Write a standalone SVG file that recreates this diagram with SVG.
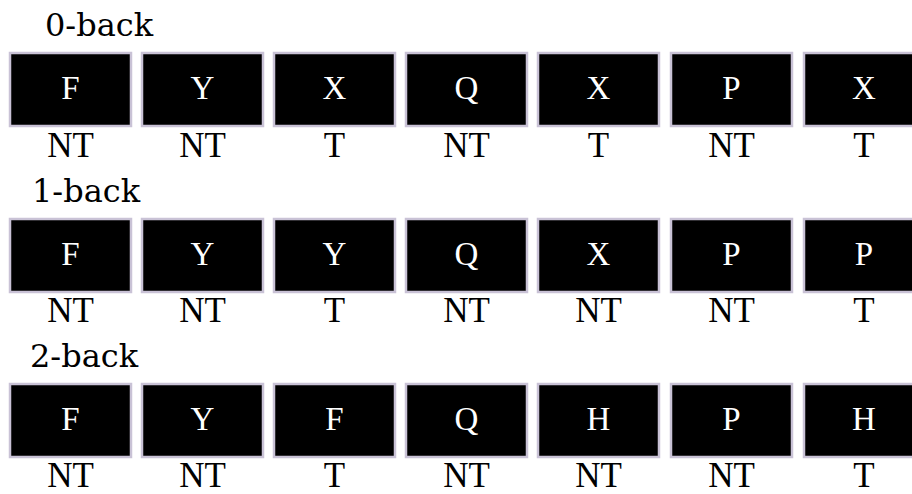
<svg xmlns="http://www.w3.org/2000/svg" width="912" height="494" viewBox="0 0 912 494">
<style>
.box{fill:#000;stroke:#c9c2d6;stroke-width:2.5}
.let{font-family:"Liberation Serif",serif;font-size:33px;fill:#fff;text-anchor:middle}
.lab{font-family:"Liberation Serif",serif;font-size:35px;fill:#000;text-anchor:middle}
.title{font-family:"DejaVu Serif","Liberation Serif",serif;font-size:32px;fill:#000}
</style>
<rect width="912" height="494" fill="#fff"/>
<text class="title" x="45" y="36">0-back</text>
<text class="title" x="32" y="202">1-back</text>
<text class="title" x="30" y="367">2-back</text>
<g id="r0">
<g id="n00"><rect class="box" x="10" y="53" width="121" height="73"/><text class="let" x="70.5" y="99">F</text><text class="lab" x="70.5" y="157">NT</text></g>
<g id="n01"><rect class="box" x="142" y="53" width="121" height="73"/><text class="let" x="202.5" y="99">Y</text><text class="lab" x="202.5" y="157">NT</text></g>
<g id="n02"><rect class="box" x="274" y="53" width="121" height="73"/><text class="let" x="334.5" y="99">X</text><text class="lab" x="334.5" y="157">T</text></g>
<g id="n03"><rect class="box" x="406" y="53" width="121" height="73"/><text class="let" x="466.5" y="99">Q</text><text class="lab" x="466.5" y="157">NT</text></g>
<g id="n04"><rect class="box" x="538" y="53" width="121" height="73"/><text class="let" x="598.5" y="99">X</text><text class="lab" x="598.5" y="157">T</text></g>
<g id="n05"><rect class="box" x="671" y="53" width="121" height="73"/><text class="let" x="731.5" y="99">P</text><text class="lab" x="731.5" y="157">NT</text></g>
<g id="n06"><rect class="box" x="804" y="53" width="121" height="73"/><text class="let" x="864" y="99">X</text><text class="lab" x="864" y="157">T</text></g>
</g>
<g id="r1">
<g id="n10"><rect class="box" x="10" y="219" width="121" height="73"/><text class="let" x="70.5" y="265">F</text><text class="lab" x="70.5" y="322">NT</text></g>
<g id="n11"><rect class="box" x="142" y="219" width="121" height="73"/><text class="let" x="202.5" y="265">Y</text><text class="lab" x="202.5" y="322">NT</text></g>
<g id="n12"><rect class="box" x="274" y="219" width="121" height="73"/><text class="let" x="334.5" y="265">Y</text><text class="lab" x="334.5" y="322">T</text></g>
<g id="n13"><rect class="box" x="406" y="219" width="121" height="73"/><text class="let" x="466.5" y="265">Q</text><text class="lab" x="466.5" y="322">NT</text></g>
<g id="n14"><rect class="box" x="538" y="219" width="121" height="73"/><text class="let" x="598.5" y="265">X</text><text class="lab" x="598.5" y="322">NT</text></g>
<g id="n15"><rect class="box" x="671" y="219" width="121" height="73"/><text class="let" x="731.5" y="265">P</text><text class="lab" x="731.5" y="322">NT</text></g>
<g id="n16"><rect class="box" x="804" y="219" width="121" height="73"/><text class="let" x="864" y="265">P</text><text class="lab" x="864" y="322">T</text></g>
</g>
<g id="r2">
<g id="n20"><rect class="box" x="10" y="384" width="121" height="73"/><text class="let" x="70.5" y="430">F</text><text class="lab" x="70.5" y="487">NT</text></g>
<g id="n21"><rect class="box" x="142" y="384" width="121" height="73"/><text class="let" x="202.5" y="430">Y</text><text class="lab" x="202.5" y="487">NT</text></g>
<g id="n22"><rect class="box" x="274" y="384" width="121" height="73"/><text class="let" x="334.5" y="430">F</text><text class="lab" x="334.5" y="487">T</text></g>
<g id="n23"><rect class="box" x="406" y="384" width="121" height="73"/><text class="let" x="466.5" y="430">Q</text><text class="lab" x="466.5" y="487">NT</text></g>
<g id="n24"><rect class="box" x="538" y="384" width="121" height="73"/><text class="let" x="598.5" y="430">H</text><text class="lab" x="598.5" y="487">NT</text></g>
<g id="n25"><rect class="box" x="671" y="384" width="121" height="73"/><text class="let" x="731.5" y="430">P</text><text class="lab" x="731.5" y="487">NT</text></g>
<g id="n26"><rect class="box" x="804" y="384" width="121" height="73"/><text class="let" x="864" y="430">H</text><text class="lab" x="864" y="487">T</text></g>
</g>
<g id="connectors"/>
</svg>
